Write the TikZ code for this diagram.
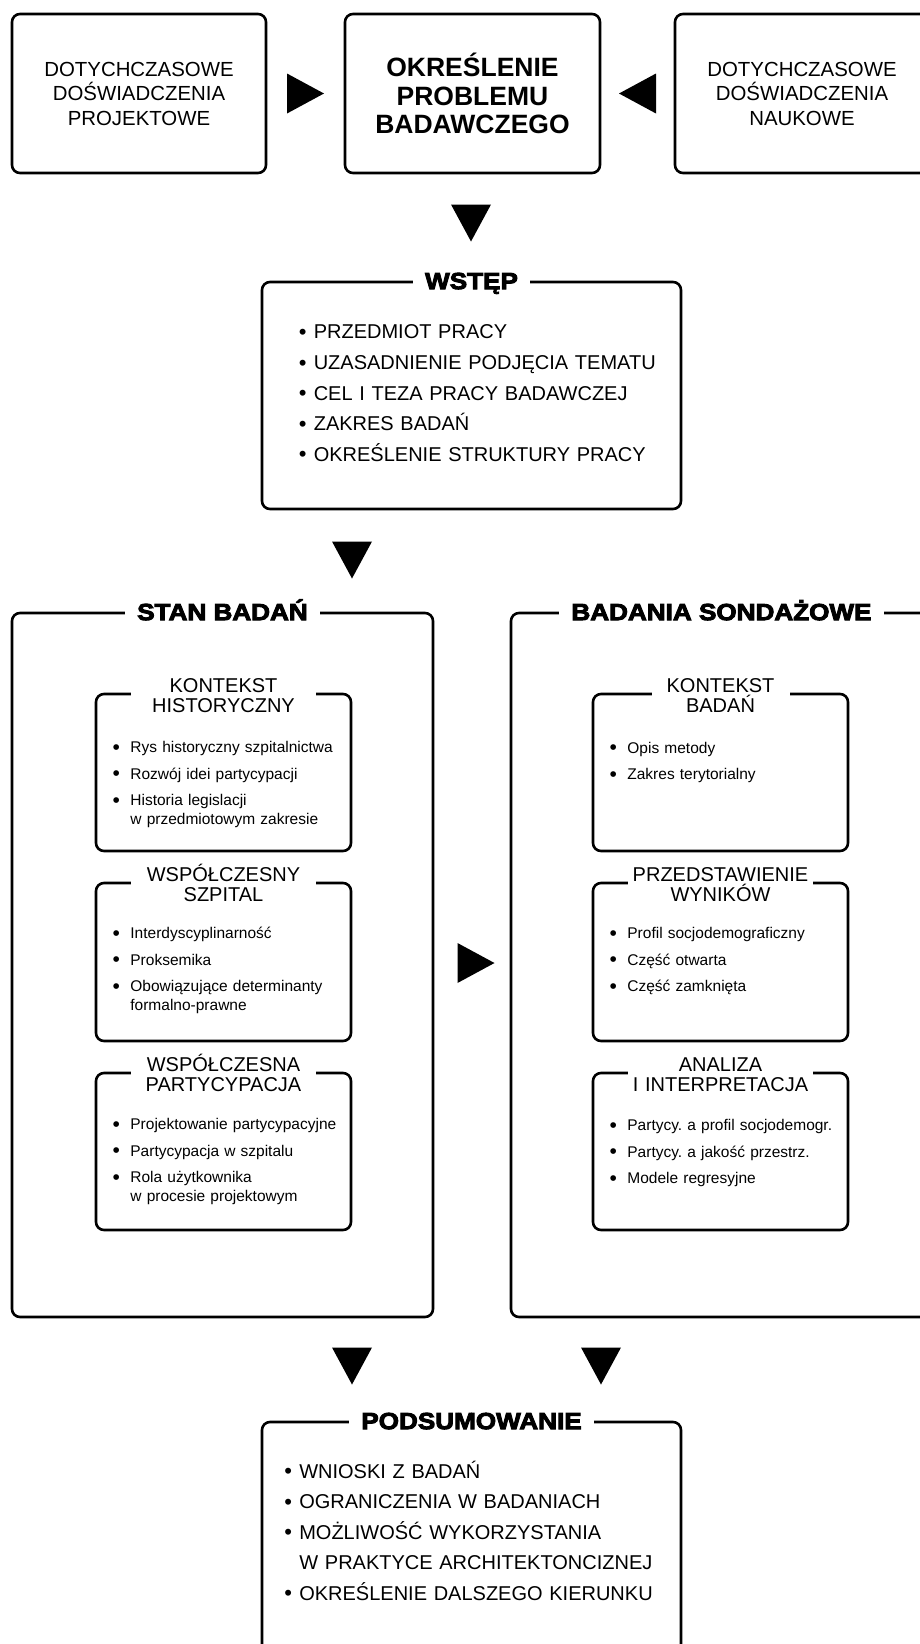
\documentclass[tikz,border=0pt]{standalone}
\usepackage{fontspec}
\setmainfont{Liberation Sans}
\newfontfamily\heavyfont[FakeStretch=1.12,FakeBold=4]{Liberation Sans}
\usetikzlibrary{calc}

\tikzset{
  frame/.style={draw, line width=1.3pt, rounded corners=4pt, inner sep=0pt},
  head/.style={fill=white, inner xsep=6pt, inner ysep=2pt, anchor=base, yshift=-4.2pt,
    font=\heavyfont\bfseries\fontsize{11.65pt}{12pt}\selectfont},
  subhead/.style={fill=white, inner sep=0pt, anchor=base, text width=92.5pt, align=center,
    font=\fontsize{10pt}{9.75pt}\selectfont},
  biglist/.style={anchor=base west, inner sep=0pt, text width=200pt, align=left,
    font=\frenchspacing\fontsize{10pt}{15.3pt}\selectfont},
  smalllist/.style={anchor=base west, inner sep=0pt, text width=115pt, align=left,
    font=\frenchspacing\fontsize{7.75pt}{9.5pt}\selectfont},
  tri/.style={fill=black}
}
\newcommand{\pkt}{\makebox[8.35pt][l]{\hspace{-0.5pt}\raisebox{-0.9pt}{\fontsize{10.5pt}{0pt}\selectfont\textbullet}}}
\newcommand{\cont}{\hspace*{8.35pt}}
\newcommand{\wpkt}{\raisebox{-0.3pt}{\fontsize{11pt}{0pt}\selectfont\textbullet}\hspace{3.6pt}}
\newcommand{\wcont}{\hspace*{7.5pt}}

\begin{document}
\begin{tikzpicture}[x=0.5pt, y=-0.5pt]
\useasboundingbox (0,0) rectangle (920,1644);
\clip (0,0) rectangle (920,1644);

% top row
\node[frame, minimum width=127pt, minimum height=79.5pt, align=center,
  font=\fontsize{10.2pt}{12.25pt}\selectfont] (projects) at (139,93.5)
  {DOTYCHCZASOWE\\DOŚWIADCZENIA\\PROJEKTOWE};
\node[frame, minimum width=127.5pt, minimum height=79.5pt, align=center,
  font=\bfseries\fontsize{13.25pt}{14.25pt}\selectfont] (problem) at (472.5,93.5)
  {OKREŚLENIE\\PROBLEMU\\BADAWCZEGO};
\node[frame, minimum width=127pt, minimum height=79.5pt, align=center,
  font=\fontsize{10.2pt}{12.25pt}\selectfont] (science) at (802,93.5)
  {DOTYCHCZASOWE\\DOŚWIADCZENIA\\NAUKOWE};

% wstep
\node[frame, minimum width=209.5pt, minimum height=113.5pt] (intro) at (471.5,395.5) {};
\node[head] (introhead) at (intro.north) {WSTĘP};
\node[biglist] (introlist) at (298.5,338.9)
  {\wpkt PRZEDMIOT PRACY\\
   \wpkt UZASADNIENIE PODJĘCIA TEMATU\\
   \wpkt CEL I TEZA PRACY BADAWCZEJ\\
   \wpkt ZAKRES BADAŃ\\
   \wpkt OKREŚLENIE STRUKTURY PRACY};

% columns
\node[frame, minimum width=210.5pt, minimum height=352pt] (stan) at (222.5,965) {};
\node[head] (stanhead) at (stan.north) {STAN BADAŃ};
\node[frame, minimum width=210.5pt, minimum height=352pt] (sond) at (721.5,965) {};
\node[head] (sondhead) at (sond.north) {BADANIA SONDAŻOWE};

\node[frame, minimum width=127.5pt, minimum height=78.5pt] (kh) at (223.5,772.5) {};
\node[subhead] (khhead) at (kh.north) {KONTEKST\\HISTORYCZNY};
\node[smalllist] (khlist) at (113.3,752.5)
  {\pkt Rys historyczny szpitalnictwa\\[3.75pt]
   \pkt Rozwój idei partycypacji\\[3.75pt]
   \pkt Historia legislacji\\
   \cont w przedmiotowym zakresie};

\node[frame, minimum width=127.5pt, minimum height=79pt] (ws) at (223.5,962) {};
\node[subhead] (wshead) at (ws.north) {WSPÓŁCZESNY\\SZPITAL};
\node[smalllist] (wslist) at (113.3,938.5)
  {\pkt Interdyscyplinarność\\[3.75pt]
   \pkt Proksemika\\[3.75pt]
   \pkt Obowiązujące determinanty\\
   \cont formalno-prawne};

\node[frame, minimum width=127.5pt, minimum height=78.5pt] (wp) at (223.5,1151.5) {};
\node[subhead] (wphead) at (wp.north) {WSPÓŁCZESNA\\PARTYCYPACJA};
\node[smalllist] (wplist) at (113.3,1129.5)
  {\pkt Projektowanie partycypacyjne\\[3.75pt]
   \pkt Partycypacja w szpitalu\\[3.75pt]
   \pkt Rola użytkownika\\
   \cont w procesie projektowym};

\node[frame, minimum width=127.5pt, minimum height=78.5pt] (kb) at (720.5,772.5) {};
\node[subhead, text width=69pt] (kbhead) at (kb.north) {KONTEKST\\BADAŃ};
\node[smalllist] (kblist) at (610.3,753)
  {\pkt Opis metody\\[3.75pt]
   \pkt Zakres terytorialny};

\node[frame, minimum width=127.5pt, minimum height=79pt] (pw) at (720.5,962) {};
\node[subhead] (pwhead) at (pw.north) {PRZEDSTAWIENIE\\WYNIKÓW};
\node[smalllist] (pwlist) at (610.3,938.5)
  {\pkt Profil socjodemograficzny\\[3.75pt]
   \pkt Część otwarta\\[3.75pt]
   \pkt Część zamknięta};

\node[frame, minimum width=127.5pt, minimum height=78.5pt] (ai) at (720.5,1151.5) {};
\node[subhead] (aihead) at (ai.north) {ANALIZA\\I INTERPRETACJA};
\node[smalllist] (ailist) at (610.3,1130.5)
  {\pkt Partycy. a profil socjodemogr.\\[3.75pt]
   \pkt Partycy. a jakość przestrz.\\[3.75pt]
   \pkt Modele regresyjne};

% podsumowanie
\node[frame, minimum width=209.5pt, minimum height=121.5pt] (summary) at (471.5,1543.5) {};
\node[head] (summaryhead) at (summary.north) {PODSUMOWANIE};
\node[biglist, font=\fontsize{10pt}{15.25pt}\selectfont] (summarylist) at (284,1478.2)
  {\wpkt WNIOSKI Z BADAŃ\\
   \wpkt OGRANICZENIA W BADANIACH\\
   \wpkt MOŻLIWOŚĆ WYKORZYSTANIA\\
   \wcont W PRAKTYCE ARCHITEKTONCIZNEJ\\
   \wpkt OKREŚLENIE DALSZEGO KIERUNKU};

% arrowheads
\coordinate (a1) at ($(projects.east)!0.5!(problem.west)$);
\coordinate (a2) at ($(problem.east)!0.5!(science.west)$);
\coordinate (a3) at (471,223);
\coordinate (a4) at (352,560);
\coordinate (a5) at (476,963);
\coordinate (a6) at (352,1366);
\coordinate (a7) at (601,1366);
\fill[tri] (a1) ++(-18.5,-20) -- ++(37,20) -- ++(-37,20) -- cycle;
\fill[tri] (a2) ++(18.5,-20) -- ++(-37,20) -- ++(37,20) -- cycle;
\fill[tri] (a5) ++(-18.5,-20) -- ++(37,20) -- ++(-37,20) -- cycle;
\foreach \p in {a3,a4,a6,a7}
  \fill[tri] (\p) ++(-20,-18.5) -- ++(40,0) -- ++(-20,37) -- cycle;
\end{tikzpicture}
\end{document}
